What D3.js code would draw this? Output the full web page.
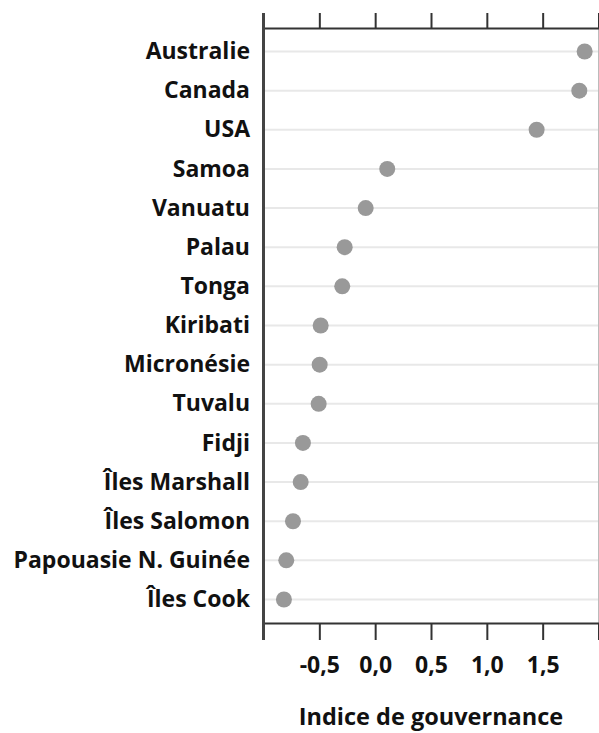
<!DOCTYPE html>
<html><head><meta charset="utf-8">
<script src="https://cdn.jsdelivr.net/npm/d3@7"></script>
<style>
html,body{margin:0;padding:0;background:#fff;}
svg{display:block;}
text{font-family:"Open Sans",sans-serif;font-weight:700;fill:#111;}
</style></head><body>
<svg id="chart" width="599" height="733"></svg>
<script>
const countries = ["Australie","Canada","USA","Samoa","Vanuatu","Palau","Tonga","Kiribati","Micronésie","Tuvalu","Fidji","Îles Marshall","Îles Salomon","Papouasie N. Guinée","Îles Cook"];
const values = [1.876,1.828,1.446,0.108,-0.085,-0.273,-0.295,-0.488,-0.497,-0.506,-0.647,-0.667,-0.736,-0.796,-0.817];
const tickValues = [-1.0,-0.5,0.0,0.5,1.0,1.5,2.0];
const tickLabels = ["","-0,5","0,0","0,5","1,0","1,5",""];
const xTitle = "Indice de gouvernance";

const svg = d3.select("#chart");
const mLeft = 263.5, mRight = 598.5, mTop = 28, mBottom = 623;
const x = d3.scaleLinear().domain([-1,2]).range([mLeft,mRight]);
const y = d3.scalePoint().domain(countries).range([mTop,mBottom]).padding(0.6);

// grid lines
svg.append("g").selectAll("line").data(countries).join("line")
  .attr("x1",mLeft).attr("x2",mRight)
  .attr("y1",d=>y(d)).attr("y2",d=>y(d))
  .attr("stroke","#e8e8e8").attr("stroke-width",2);

// right border
svg.append("line").attr("x1",mRight).attr("x2",mRight).attr("y1",13).attr("y2",640)
  .attr("stroke","#bbb").attr("stroke-width",1);

// top axis
const topAxis = svg.append("g").attr("transform",`translate(0,${mTop})`)
  .call(d3.axisTop(x).tickValues(tickValues).tickFormat("").tickSize(15).tickSizeOuter(0));
topAxis.select(".domain").attr("stroke","#333").attr("stroke-width",2);
topAxis.selectAll(".tick line").attr("stroke","#333").attr("stroke-width",2);

// bottom axis
const botAxis = svg.append("g").attr("transform",`translate(0,${mBottom})`)
  .call(d3.axisBottom(x).tickValues(tickValues).tickFormat((d,i)=>tickLabels[i]).tickSize(17).tickSizeOuter(0));
botAxis.select(".domain").attr("stroke","#333").attr("stroke-width",2);
botAxis.selectAll(".tick line").attr("stroke","#333").attr("stroke-width",2);
botAxis.selectAll(".tick text").attr("font-size",23).attr("font-family","'Open Sans',sans-serif")
  .attr("font-weight",700).attr("fill","#111").attr("y",50).attr("dy",0);

// y axis line
svg.append("line").attr("x1",mLeft).attr("x2",mLeft).attr("y1",13).attr("y2",640)
  .attr("stroke","#444").attr("stroke-width",3);

// labels
svg.append("g").selectAll("text").data(countries).join("text")
  .attr("x",250).attr("y",d=>y(d)).attr("dy","0.33em")
  .attr("text-anchor","end").attr("font-size",23).text(d=>d);

// dots
svg.append("g").selectAll("circle").data(countries).join("circle")
  .attr("cx",(d,i)=>x(values[i])).attr("cy",d=>y(d)).attr("r",8)
  .attr("fill","#999");

svg.append("text").attr("x",(mLeft+mRight)/2).attr("y",725)
  .attr("text-anchor","middle").attr("font-size",23.5).text(xTitle);
</script></body></html>
